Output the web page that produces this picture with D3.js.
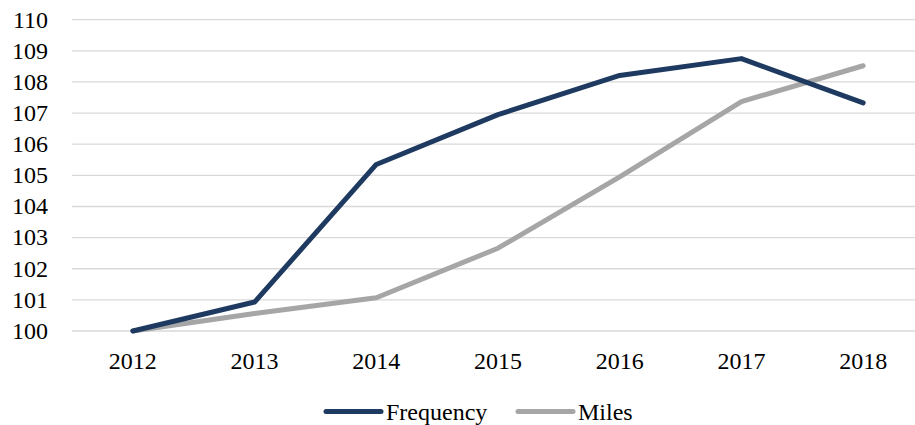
<!DOCTYPE html>
<html>
<head>
<meta charset="utf-8">
<script src="https://cdn.jsdelivr.net/npm/d3@7"></script>
<style>
  html, body { margin: 0; padding: 0; background: #fff; }
  svg { display: block; }
  text { font-family: "Liberation Serif", "DejaVu Serif", serif; fill: #000; }
</style>
</head>
<body>
<svg id="chart" width="915" height="425"></svg>
<script>
const years = ["2012", "2013", "2014", "2015", "2016", "2017", "2018"];
const frequency = [100, 100.93, 105.35, 106.95, 108.21, 108.75, 107.33];
const miles = [100, 100.56, 101.07, 102.66, 104.95, 107.37, 108.52];
const yTicks = [100, 101, 102, 103, 104, 105, 106, 107, 108, 109, 110];

const series = [
  { name: "Frequency", values: frequency, color: "#1f3a60" },
  { name: "Miles", values: miles, color: "#a6a6a6" }
];

const svg = d3.select("#chart");
const width = 915, height = 425;

// plot area (right side runs a bit off the canvas, like the original)
const x = d3.scaleBand().domain(years).range([72, 924]);
const y = d3.scaleLinear().domain([100, 110]).range([331, 19.7]);

// gridlines
svg.append("g").selectAll("line")
  .data(yTicks)
  .enter().append("line")
  .attr("x1", 72).attr("x2", width)
  .attr("y1", d => y(d)).attr("y2", d => y(d))
  .attr("stroke", "#d9d9d9")
  .attr("stroke-width", 1.3);

// y axis labels
svg.append("g").selectAll("text")
  .data(yTicks)
  .enter().append("text")
  .attr("x", 48)
  .attr("y", d => y(d) + 7.8)
  .attr("text-anchor", "end")
  .style("font-size", "24px")
  .text(d => d);

// x axis labels
svg.append("g").selectAll("text")
  .data(years)
  .enter().append("text")
  .attr("x", d => x(d) + x.bandwidth() / 2)
  .attr("y", 369)
  .attr("text-anchor", "middle")
  .style("font-size", "24px")
  .text(d => d);

const line = d3.line()
  .x((d, i) => x(years[i]) + x.bandwidth() / 2)
  .y(d => y(d));

// lines (miles drawn first so frequency sits on top at the start)
svg.append("g").selectAll("path")
  .data(series.slice().reverse())
  .enter().append("path")
  .attr("d", d => line(d.values))
  .attr("fill", "none")
  .attr("stroke", d => d.color)
  .attr("stroke-width", 5)
  .attr("stroke-linejoin", "round")
  .attr("stroke-linecap", "round");

// legend
const legendPos = [326, 518];
const legend = svg.append("g").selectAll("g")
  .data(series)
  .enter().append("g")
  .attr("transform", (d, i) => `translate(${legendPos[i]},411.5)`);

legend.append("line")
  .attr("x1", 0).attr("x2", 55)
  .attr("stroke", d => d.color)
  .attr("stroke-width", 5)
  .attr("stroke-linecap", "round");

legend.append("text")
  .attr("x", 60)
  .attr("y", 8)
  .style("font-size", "24px")
  .text(d => d.name);
</script>
</body>
</html>
